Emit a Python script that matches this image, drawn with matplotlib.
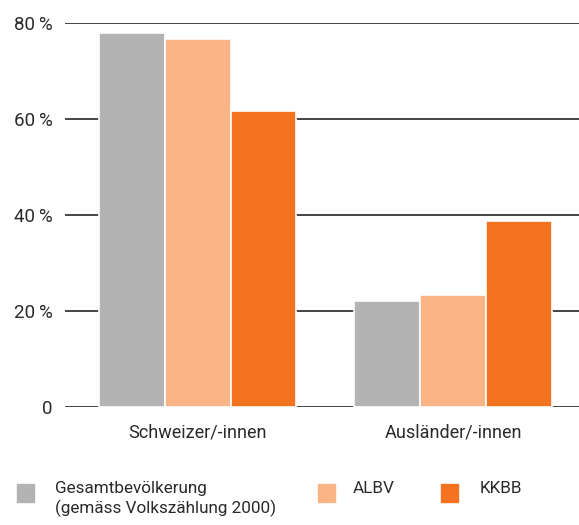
import numpy as np
import matplotlib.pyplot as plt
from matplotlib.patches import Rectangle

# --- Daten ---
kategorien = ['Schweizer/-innen', 'Ausländer/-innen']
gesamt = [78.0, 22.0]
albv = [76.6, 23.4]
kkbb = [61.6, 38.7]
serien = ['Gesamtbevölkerung\n(gemäss Volkszählung 2000)', 'ALBV', 'KKBB']
farben = ['#b3b3b3', '#f9b586', '#f37321']
yticks = [0, 20, 40, 60, 80]
ytick_labels = ['0', '20\u2009%', '40\u2009%', '60\u2009%', '80\u2009%']

plt.rcParams['font.family'] = ['Roboto', 'DejaVu Sans']

fig = plt.figure(figsize=(5.79, 5.25), dpi=100)
ax = fig.add_axes([65 / 579, 1 - 407 / 525, 1 - 65 / 579, (407 - 23) / 525])

x = np.arange(len(kategorien))
w = 0.258
for i, (werte, farbe) in enumerate(zip([gesamt, albv, kkbb], farben)):
    ax.bar(x + (i - 1) * w, werte, width=w, color=farbe, edgecolor='white',
           linewidth=1.2, zorder=3)

ax.set_xlim(-0.519, 1.493)
ax.set_ylim(0, 80)
ax.set_yticks(yticks)
ax.set_yticklabels(ytick_labels, fontsize=13.5, color='#2a2a2a')
ax.set_xticks(x)
ax.set_xticklabels(kategorien, fontsize=13, color='#2a2a2a')
ax.tick_params(axis='y', length=0, pad=9)
ax.tick_params(axis='x', length=0, pad=12)
ax.grid(axis='y', color='#111111', linewidth=1.1, zorder=0)
for s in ax.spines.values():
    s.set_visible(False)

# --- Legende ---
leg_pos = [(17, 55), (318, 353), (441, 480)]
for (qx, tx), farbe, name in zip(leg_pos, farben, serien):
    fig.patches.append(Rectangle((qx / 579, 1 - 502 / 525), 17 / 579, 18 / 525,
                                 transform=fig.transFigure, color=farbe))
    fig.text(tx / 579, 1 - 481 / 525, name, fontsize=12.3, color='#2a2a2a',
             va='top', ha='left', linespacing=1.3)

fig.savefig('out.png', dpi=100)
